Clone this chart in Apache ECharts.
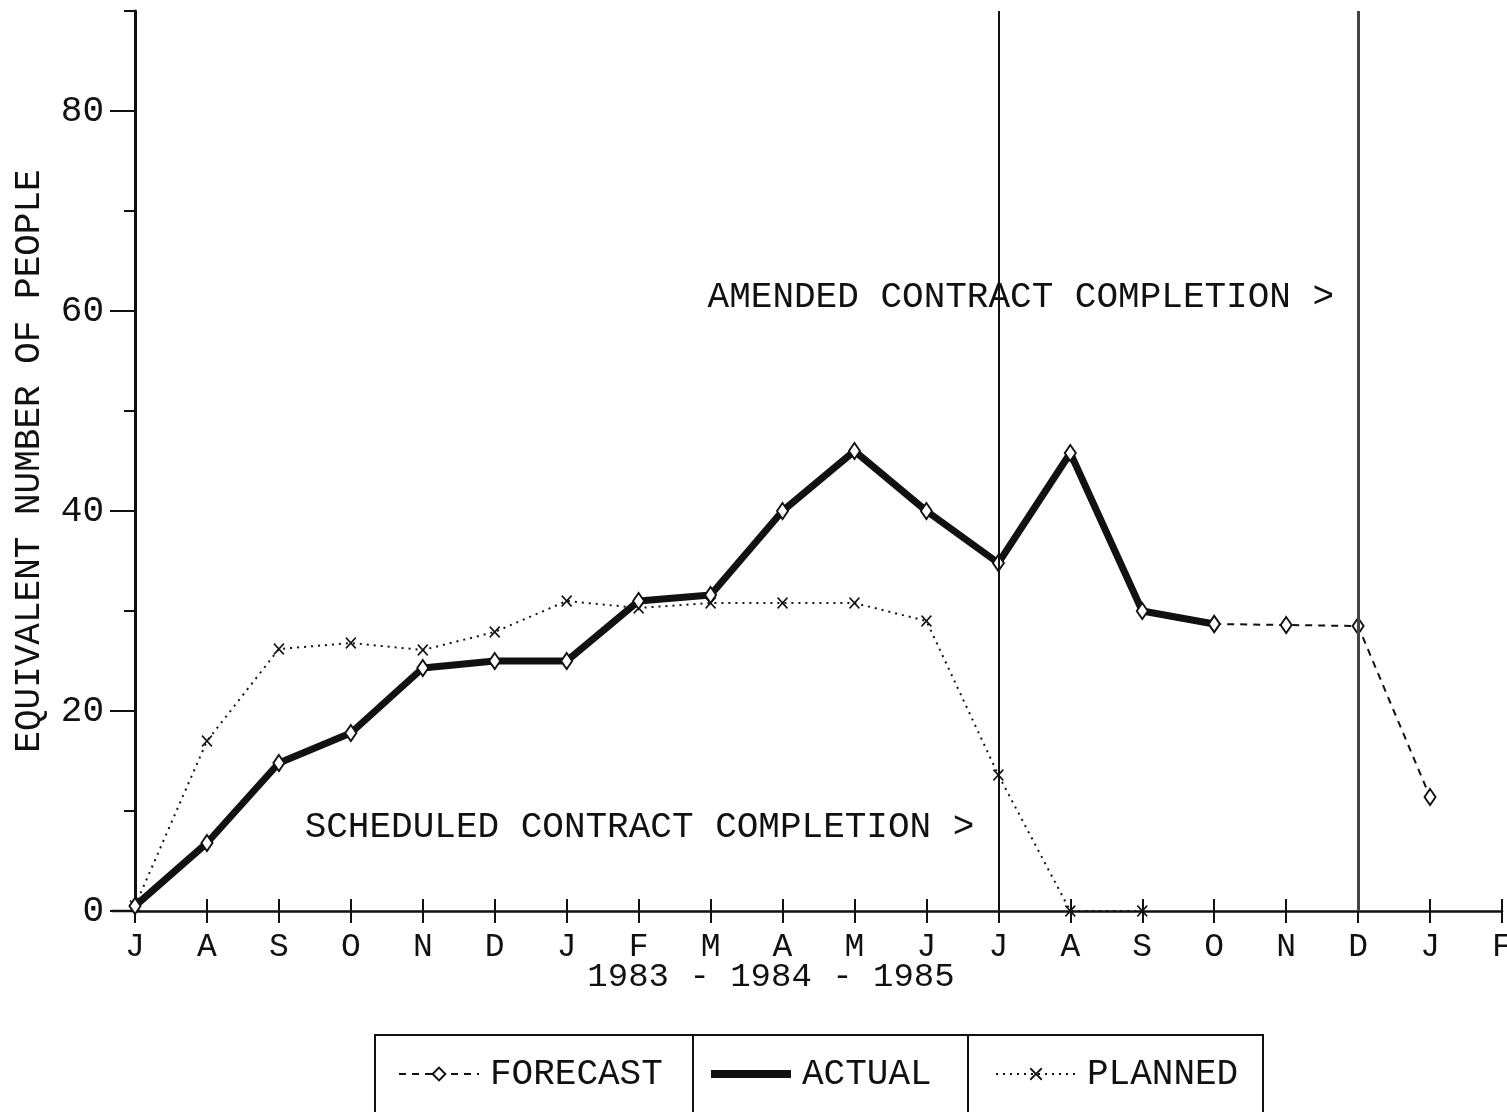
<!DOCTYPE html>
<html>
<head>
<meta charset="utf-8">
<script src="https://cdn.jsdelivr.net/npm/echarts@6/dist/echarts.min.js"></script>
<style>
  html, body { margin: 0; padding: 0; background: #fff; }
  #chart { width: 1507px; height: 1112px; }
</style>
</head>
<body>
<div id="chart"></div>
<script>
// months Jul 1983 .. Feb 1985
const categories = ['Jul 83', 'Aug 83', 'Sep 83', 'Oct 83', 'Nov 83', 'Dec 83', 'Jan 84', 'Feb 84', 'Mar 84', 'Apr 84',
  'May 84', 'Jun 84', 'Jul 84', 'Aug 84', 'Sep 84', 'Oct 84', 'Nov 84', 'Dec 84', 'Jan 85', 'Feb 85'];
const tickLabels = ['J', 'A', 'S', 'O', 'N', 'D', 'J', 'F', 'M', 'A', 'M', 'J', 'J', 'A', 'S', 'O', 'N', 'D', 'J', 'F'];

const actual = [0.5, 6.8, 14.8, 17.8, 24.3, 25, 25, 31, 31.6, 40, 46, 40, 34.8, 45.8, 30, 28.7];
const forecast = [null, null, null, null, null, null, null, null, null, null, null, null, null, null, null,
  28.7, 28.6, 28.5, 11.4];
const planned = [0.5, 17, 26.2, 26.8, 26.1, 27.9, 31, 30.3, 30.8, 30.8, 30.8, 29, 13.6, 0, 0];

// [label, month index, height of the label]
const completions = [
  ['SCHEDULED CONTRACT COMPLETION >', 12, 8.4],
  ['AMENDED CONTRACT COMPLETION >', 17, 61.4]
];

const FONT = 'Liberation Mono';
const INK = '#111';

const chart = echarts.init(document.getElementById('chart'));

const xMark = 'path://M0,1L1,0L5,4L9,0L10,1L6,5L10,9L9,10L5,6L1,10L0,9L4,5Z';

chart.setOption({
  animation: false,
  textStyle: { fontFamily: FONT, color: INK },
  grid: [
    { left: 135, right: 5, top: 11, bottom: 201, outerBoundsMode: 'none', containLabel: false },
    { left: 135, right: 5, top: 111, bottom: 201, outerBoundsMode: 'none', containLabel: false }   // long ticks + labels 0..80
  ],
  xAxis: [
    {
      type: 'category', data: categories, boundaryGap: false, gridIndex: 0, position: 'bottom',
      axisLine: { lineStyle: { color: INK, width: 2.5 } },
      axisTick: { length: 12, lineStyle: { color: INK, width: 2 } },
      axisLabel: {
        margin: 20, fontSize: 33, fontFamily: FONT, color: INK, interval: 0,
        formatter: (v, i) => tickLabels[i]
      },
      splitLine: { show: false }
    },
    {
      type: 'category', data: categories, boundaryGap: false, gridIndex: 0, position: 'bottom', offset: 0,
      axisLine: { show: false },
      axisTick: { inside: true, length: 12, lineStyle: { color: INK, width: 2 } },
      axisLabel: { show: false },
      splitLine: { show: false }
    },
    { type: 'category', data: categories, boundaryGap: false, gridIndex: 1, show: false }
  ],
  yAxis: [
    {
      type: 'value', min: 0, max: 90, interval: 10, gridIndex: 0,
      name: 'EQUIVALENT NUMBER OF PEOPLE', nameLocation: 'middle', nameGap: 88,
      nameTextStyle: { fontSize: 36, fontFamily: FONT, color: INK },
      axisLine: { show: true, lineStyle: { color: INK, width: 3 } },
      axisTick: { show: true, length: 11, lineStyle: { color: INK, width: 2 } },
      axisLabel: { show: false },
      splitLine: { show: false }
    },
    {
      type: 'value', min: 0, max: 80, interval: 20, gridIndex: 1,
      axisLine: { show: false },
      axisTick: { show: true, length: 25, lineStyle: { color: INK, width: 2 } },
      axisLabel: { margin: 31, fontSize: 36, fontFamily: FONT, color: INK },
      splitLine: { show: false }
    }
  ],
  legend: [
    { data: ['FORECAST'], left: 393 },
    { data: [{ name: 'ACTUAL', icon: 'rect', itemStyle: { color: INK, borderWidth: 0 } }], left: 706, itemHeight: 8 },
    { data: ['PLANNED'], left: 990 }
  ].map(l => Object.assign({
    top: 1051, itemWidth: 80, itemHeight: 16,
    textStyle: { fontSize: 36, fontFamily: FONT, color: INK, padding: [0, 0, 0, 6] }
  }, l)),
  series: [
    {
      name: 'ACTUAL', type: 'line', data: actual,
      symbol: 'diamond', symbolSize: [11, 16],
      itemStyle: { color: '#fff', borderColor: INK, borderWidth: 2 },
      lineStyle: { color: INK, width: 7 },
      z: 4,
      markLine: {
        silent: true, symbol: 'none', label: { show: false },
        data: [
          { xAxis: completions[0][1], lineStyle: { color: INK, width: 2, type: 'solid' } },
          { xAxis: completions[1][1], lineStyle: { color: '#444', width: 3, type: 'solid' } }
        ]
      },
      markPoint: {
        silent: true, symbol: 'circle', symbolSize: 0,
        label: { show: true, position: 'left', distance: 24, fontSize: 36, fontFamily: FONT, color: INK },
        data: completions.map(c => ({ coord: [c[1], c[2]], label: { formatter: c[0] } }))
      }
    },
    {
      name: 'FORECAST', type: 'line', data: forecast,
      symbol: 'diamond', symbolSize: [11, 16],
      itemStyle: { color: '#fff', borderColor: INK, borderWidth: 2 },
      lineStyle: { color: INK, width: 2, type: [7, 6] },
      z: 3
    },
    {
      name: 'PLANNED', type: 'line', data: planned,
      symbol: xMark, symbolSize: [11, 12],
      itemStyle: { color: INK },
      lineStyle: { color: INK, width: 2, type: [2, 5] },
      z: 2
    }
  ],
  graphic: [
    // x axis line runs a little past the y axis on the left
    { type: 'line', shape: { x1: 112, y1: 911, x2: 135, y2: 911 }, style: { stroke: INK, lineWidth: 2.5 } },
    // legend box
    { type: 'rect', shape: { x: 375, y: 1035, width: 888, height: 90 }, style: { fill: 'none', stroke: INK, lineWidth: 2 } },
    { type: 'line', shape: { x1: 693, y1: 1035, x2: 693, y2: 1112 }, style: { stroke: INK, lineWidth: 2 } },
    { type: 'line', shape: { x1: 968, y1: 1035, x2: 968, y2: 1112 }, style: { stroke: INK, lineWidth: 2 } },
    // year caption under the months
    {
      type: 'text', x: 771, y: 977,
      style: { text: '1983 - 1984 - 1985', fontSize: 34, fontFamily: FONT, fill: INK, align: 'center', verticalAlign: 'middle' }
    }
  ]
});
</script>
</body>
</html>
